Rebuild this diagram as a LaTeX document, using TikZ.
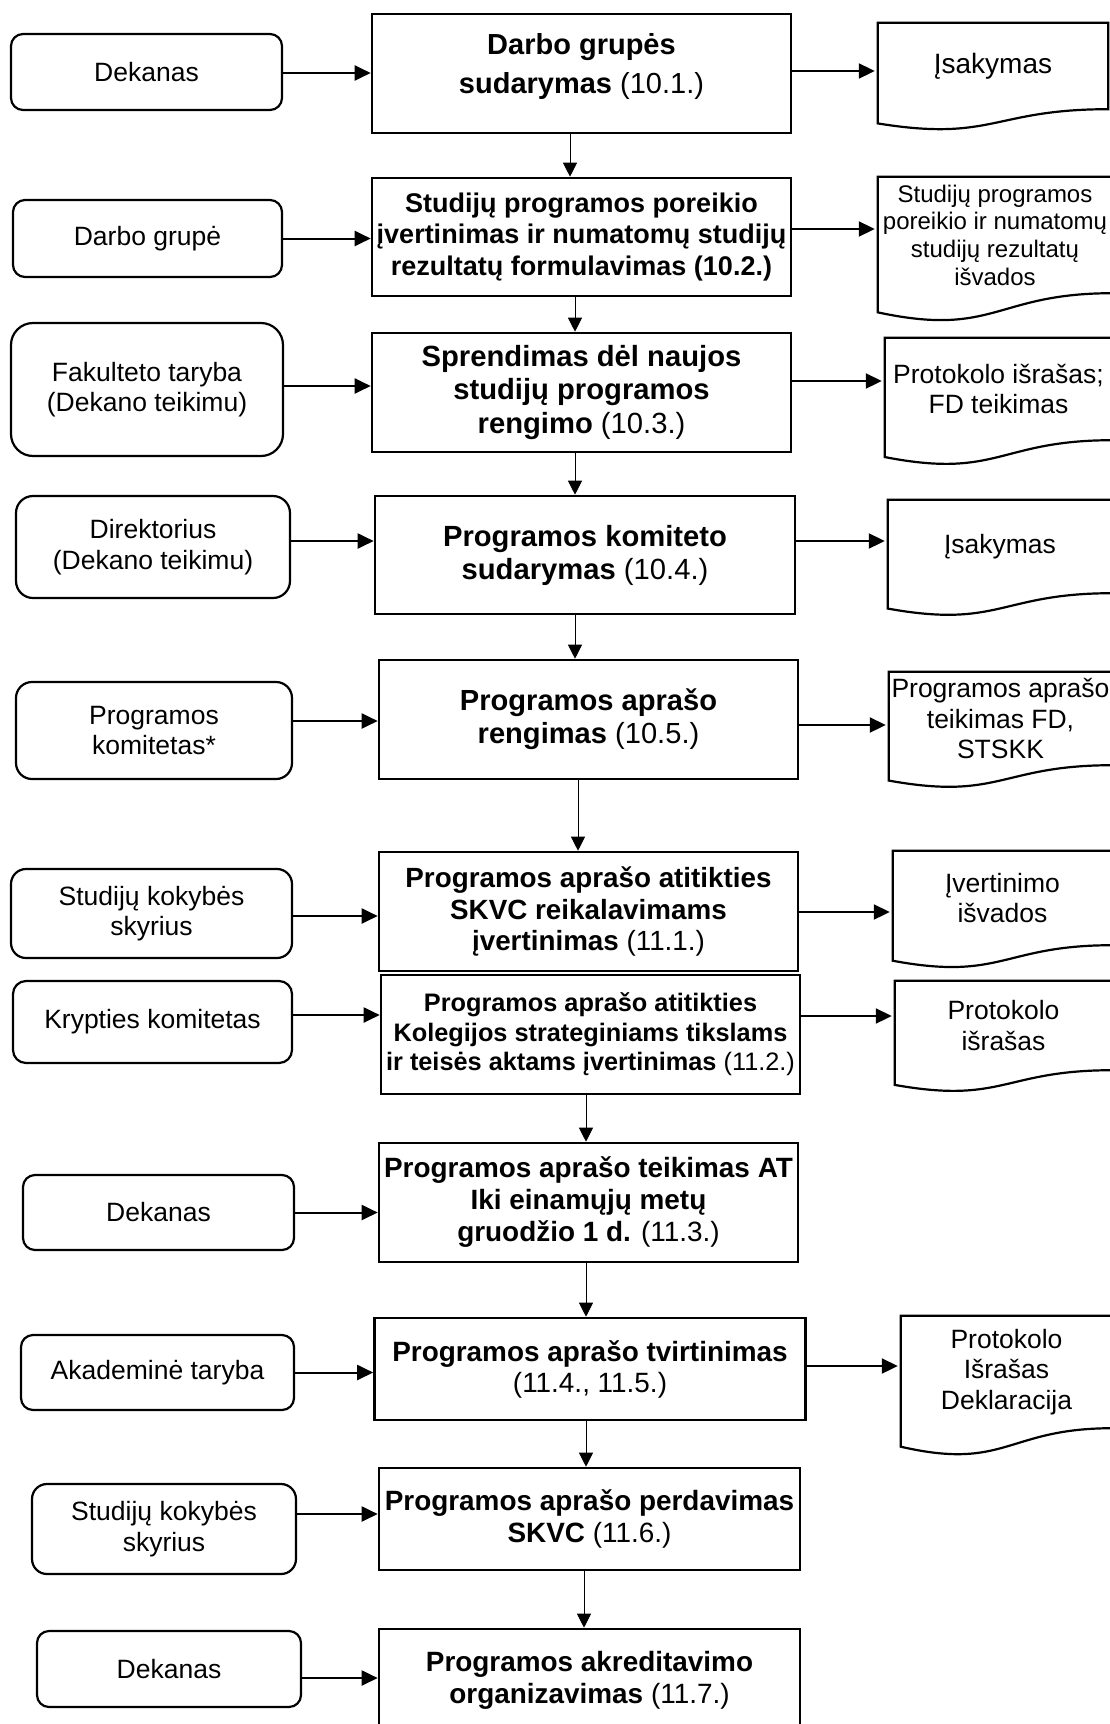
\documentclass[tikz,border=0pt]{standalone}
\usepackage{fontspec}
\setmainfont{Liberation Sans}
\usetikzlibrary{arrows.meta, calc}

\begin{document}
\begin{tikzpicture}[x=1pt, y=-1pt,
        actor/.style={draw, line width=2.2pt, rounded corners=12pt, align=center,
            font=\fontsize{26.5}{30.5}\selectfont},
        task/.style={draw, line width=2.6pt, align=center, inner xsep=1pt,
            minimum width=419pt, minimum height=119pt,
            font=\fontsize{27.9}{32}\selectfont},
        doc/.style={inner sep=0pt, align=center, font=\fontsize{26.5}{30.5}\selectfont},
        docline/.style={line width=2.2pt},
        flow/.style={line width=2pt, -{Triangle[length=16pt, width=15pt]}},
        down/.style={line width=1pt, -{Triangle[length=14pt, width=14pt]}}]
    \useasboundingbox (0,0) rectangle (1110,1724);
    \fill[white] (0,0) rectangle (1110,1724);
    \clip (0,0) rectangle (1110,1724);

    % kas atsakingas
    \node[actor, minimum width=271pt, minimum height=76pt] (l1) at (146.5,72) {Dekanas};
    \node[actor, minimum width=269pt, minimum height=77pt] (l2) at (147.5,238.5) {Darbo grupė};
    \node[actor, minimum width=272pt, minimum height=133pt, rounded corners=22pt] (l3) at (147,389.5) {Fakulteto taryba\\(Dekano teikimu)};
    \node[actor, minimum width=274pt, minimum height=102pt, rounded corners=17pt] (l4) at (153,547) {Direktorius\\(Dekano teikimu)};
    \node[actor, minimum width=276pt, minimum height=97pt, rounded corners=16pt] (l5) at (154,730.5) {Programos\\komitetas*};
    \node[actor, minimum width=281pt, minimum height=89pt, rounded corners=15pt] (l6) at (151.5,913.5) {Studijų kokybės\\skyrius};
    \node[actor, minimum width=279pt, minimum height=82pt, rounded corners=13pt] (l7) at (152.5,1022) {Krypties komitetas};
    \node[actor, minimum width=271pt, minimum height=75pt] (l8) at (158.5,1212.5) {Dekanas};
    \node[actor, minimum width=273pt, minimum height=75pt] (l9) at (157.5,1372.5) {Akademinė taryba};
    \node[actor, minimum width=264pt, minimum height=90pt, rounded corners=15pt] (l10) at (164,1529) {Studijų kokybės\\skyrius};
    \node[actor, minimum width=264pt, minimum height=76pt] (l11) at (169,1669) {Dekanas};

    % procedūros žingsniai
    \node[task, font=\fontsize{29}{39}\selectfont, text depth=21pt] (b1) at (581.5,73.5) {\textbf{Darbo grupės}\\\textbf{sudarymas} (10.1.)};
    \node[task, minimum height=118pt, font=\fontsize{27}{31.5}\selectfont\bfseries] (b2) at (581.5,237) {Studijų programos poreikio\\įvertinimas ir numatomų studijų\\rezultatų formulavimas (10.2.)};
    \node[task, font=\fontsize{29.2}{33.5}\selectfont] (b3) at (581.5,392.5) {\textbf{Sprendimas dėl naujos}\\\textbf{studijų programos}\\\textbf{rengimo} (10.3.)};
    \node[task, minimum width=420pt, minimum height=118pt, font=\fontsize{29.2}{33}\selectfont] (b4) at (585,555) {\textbf{Programos komiteto}\\\textbf{sudarymas} (10.4.)};
    \node[task, font=\fontsize{29.1}{33}\selectfont] (b5) at (588.5,719.5) {\textbf{Programos aprašo}\\\textbf{rengimas} (10.5.)};
    \node[task, font=\fontsize{27.8}{31.5}\selectfont] (b6) at (588.5,911.5) {\textbf{Programos aprašo atitikties}\\\textbf{SKVC reikalavimams}\\\textbf{įvertinimas} (11.1.)};
    \node[task, font=\fontsize{25.3}{29.5}\selectfont] (b7) at (590.5,1034.5) {\textbf{Programos aprašo atitikties}\\\textbf{Kolegijos strateginiams tikslams}\\\textbf{ir teisės aktams įvertinimas} (11.2.)};
    \node[task] (b8) at (588.5,1202.5) {\textbf{Programos aprašo teikimas AT}\\\textbf{Iki einamųjų metų}\\\textbf{gruodžio 1 d.} (11.3.)};
    \node[task, minimum width=431pt, minimum height=102pt, font=\fontsize{27.9}{31}\selectfont] (b9) at (590,1369) {\textbf{Programos aprašo tvirtinimas}\\(11.4., 11.5.)};
    \node[task, minimum width=421pt, minimum height=102pt] (b10) at (589.5,1519) {\textbf{Programos aprašo perdavimas}\\\textbf{SKVC} (11.6.)};
    \node[task, minimum width=421pt, minimum height=102pt] (b11) at (589.5,1680) {\textbf{Programos akreditavimo}\\\textbf{organizavimas} (11.7.)};

    % dokumentai
    \node[doc, minimum width=230pt, minimum height=86pt, font=\fontsize{28}{31}\selectfont] (r1) at (993,66) {Įsakymas};
    \node[doc, minimum width=234pt, minimum height=116pt, font=\fontsize{24}{27.7}\selectfont] (r2) at (995,235) {Studijų programos\\poreikio ir numatomų\\studijų rezultatų\\išvados};
    \node[doc, minimum width=227pt, minimum height=102pt] (r3) at (998.5,389) {Protokolo išrašas;\\FD teikimas};
    \node[doc, minimum width=224pt, minimum height=93pt] (r4) at (1000,546.5) {Įsakymas};
    \node[doc, minimum width=223pt, minimum height=93pt] (r5) at (1000.5,718.5) {Programos aprašo\\teikimas FD,\\STSKK};
    \node[doc, minimum width=219pt, minimum height=94pt] (r6) at (1002.5,898) {Įvertinimo\\išvados};
    \node[doc, minimum width=217pt, minimum height=89pt] (r7) at (1003.5,1025.5) {Protokolo\\išrašas};
    \node[doc, minimum width=211pt, minimum height=112pt] (r8) at (1006.5,1372) {Protokolo\\Išrašas\\Deklaracija};

    \foreach \d in {r1,r2,r3,r4,r5,r6,r7,r8}
        \draw[docline] (\d.north west) -- (\d.north east) -- (\d.south east)
            .. controls (\d.south) and ($(\d.south)!-0.381!(\d.north)$)
            .. ($(\d.south west)!-0.1646!(\d.north west)$) -- cycle;

    % rodyklės
    \foreach \i/\dy in {1/-1, 2/0, 3/3.5, 4/6, 5/9.5, 6/-2.5, 7/7, 8/0, 9/0, 10/15, 11/-9}
        \draw[flow] ([yshift=\dy pt]l\i.east) -- ([yshift=\dy pt]l\i.east -| b\i.west);
    \foreach \a/\b/\dy in {b1/r1/2.5, b2/r2/8, b3/r3/11.5, b4/r4/14, b5/r5/-5.5, b6/r6/-0.5, b7/r7/18.5, b9/r8/3}
        \draw[flow, shorten >=3pt] ([yshift=\dy pt]\a.east) -- ([yshift=\dy pt]\a.east -| \b.west);
    \foreach \a/\b/\dx in {1/2/-11.5, 2/3/-6.5, 3/4/-6.5, 4/5/-10, 5/6/-10.5, 7/8/-4.5, 8/9/-2.5, 9/10/-4, 10/11/-5.5}
        \draw[down] ([xshift=\dx pt]b\a.south) -- ([xshift=\dx pt]b\a.south |- b\b.north);
\end{tikzpicture}
\end{document}
